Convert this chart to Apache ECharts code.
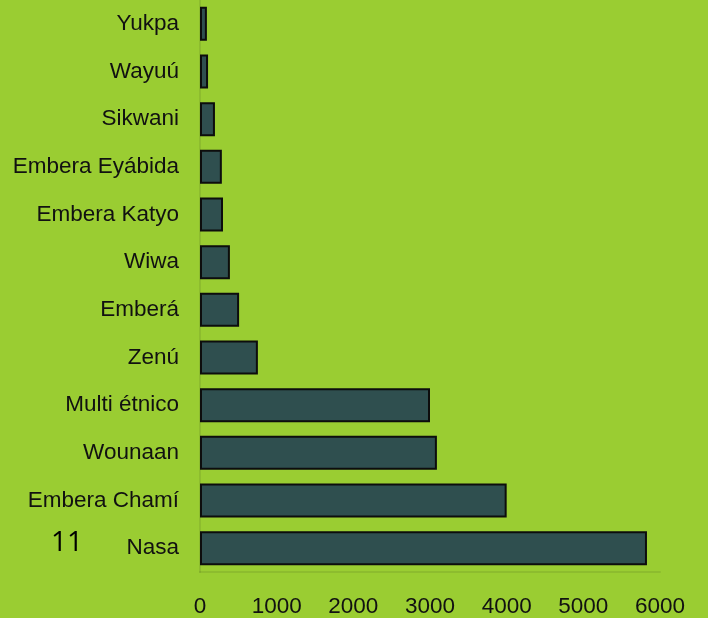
<!DOCTYPE html>
<html>
<head>
<meta charset="utf-8">
<script src="https://cdn.jsdelivr.net/npm/echarts@6/dist/echarts.min.js"></script>
<style>
html,body{margin:0;padding:0;background:#9ACD32;}
#chart{width:708px;height:618px;}
</style>
</head>
<body>
<div id="chart"></div>
<script>
const categories = ["Yukpa","Wayuú","Sikwani","Embera Eyábida","Embera Katyo","Wiwa","Emberá","Zenú","Multi étnico","Wounaan","Embera Chamí","Nasa"];
const values = [90, 105, 195, 285, 300, 390, 510, 755, 3000, 3090, 4000, 5830];
const xTicks = [0, 1000, 2000, 3000, 4000, 5000, 6000];
const annotation = "11";

const chart = echarts.init(document.getElementById('chart'), null, {renderer: 'canvas'});
chart.setOption({
  backgroundColor: '#9ACD32',
  animation: false,
  grid: {left: 200, right: 48, top: -3, bottom: 45, containLabel: false},
  xAxis: {
    type: 'value',
    min: xTicks[0],
    max: xTicks[xTicks.length - 1],
    interval: 1000,
    axisLine: {show: true, lineStyle: {color: 'rgba(0,0,0,0.08)', width: 2}},
    axisTick: {show: false},
    splitLine: {show: false},
    axisLabel: {color: '#111', fontSize: 22.5, fontFamily: 'Liberation Sans', margin: 23,
      formatter: v => String(v)}
  },
  yAxis: {
    type: 'category',
    data: categories,
    inverse: true,
    axisLine: {show: true, lineStyle: {color: 'rgba(0,0,0,0.08)', width: 2}},
    axisTick: {show: false},
    axisLabel: {color: '#111', fontSize: 22.5, fontFamily: 'Liberation Sans', margin: 21}
  },
  series: [{
    type: 'bar',
    data: values,
    barWidth: 34,
    itemStyle: {color: '#2F4F4F', borderColor: '#0d0d0d', borderWidth: 2}
  }],
  graphic: [{
    type: 'text',
    left: 51,
    top: 529,
    style: {text: annotation, fill: '#000', font: '28px "Open Sans"'}
  }]
});
</script>
</body>
</html>
